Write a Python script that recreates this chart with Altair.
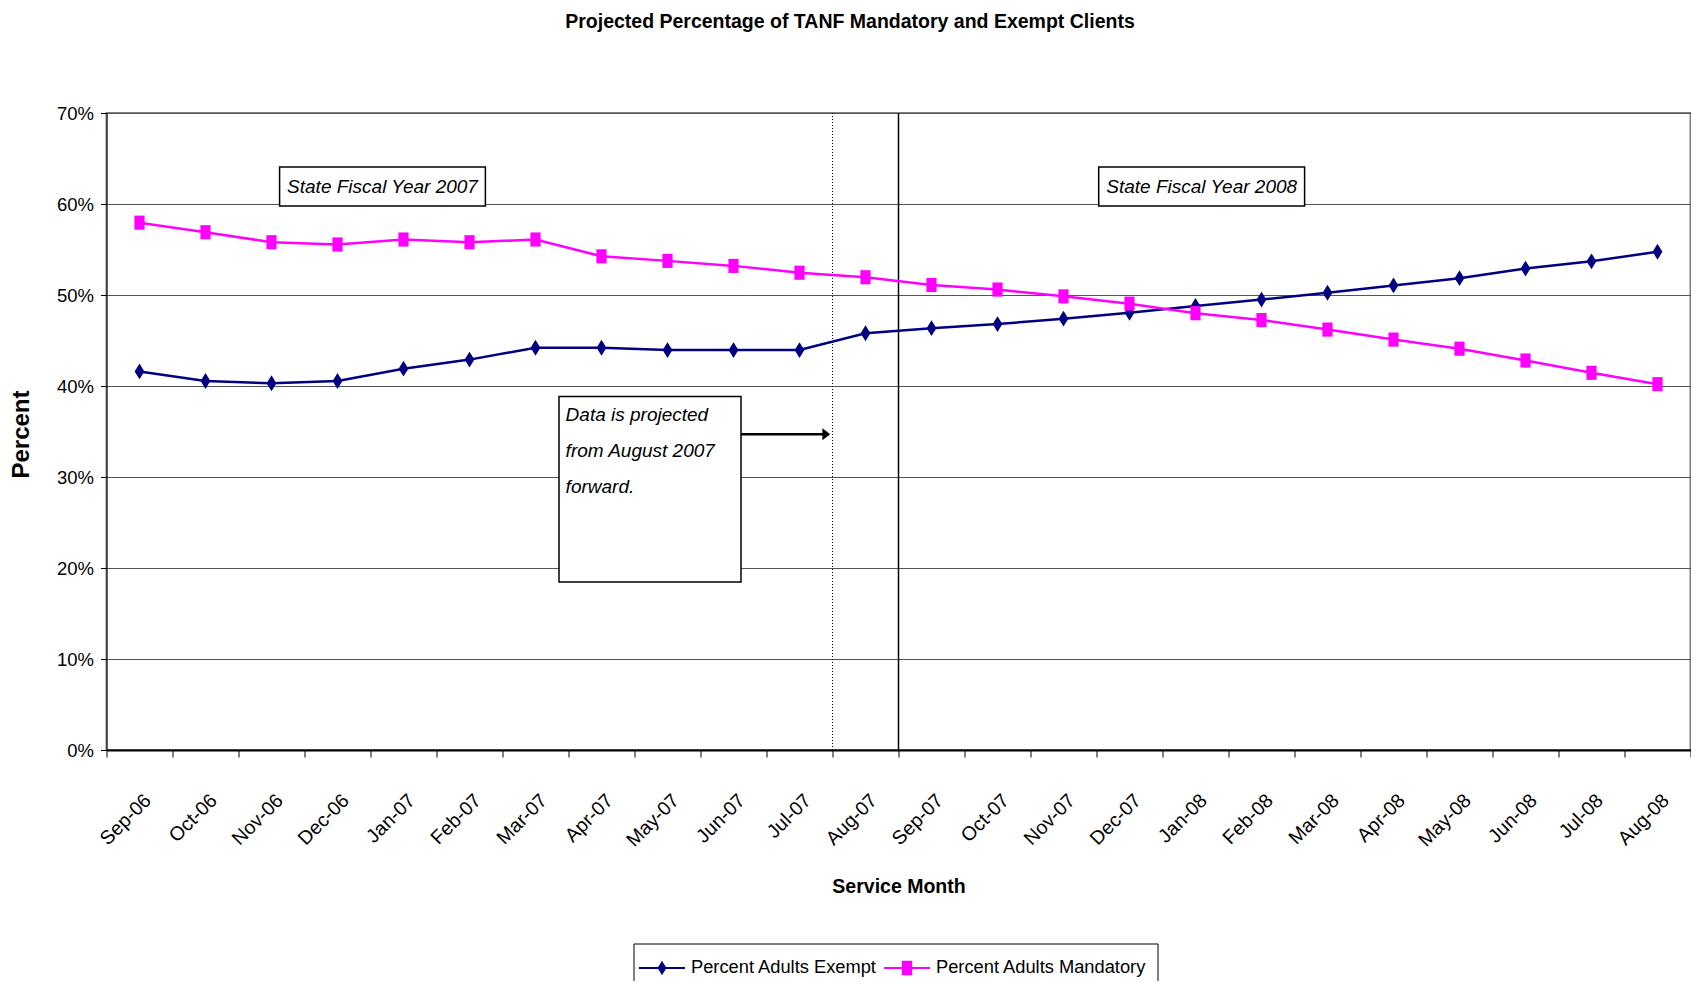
import altair as alt
import pandas as pd

# ---------------- data ----------------
months = ["Sep-06", "Oct-06", "Nov-06", "Dec-06", "Jan-07", "Feb-07", "Mar-07", "Apr-07",
          "May-07", "Jun-07", "Jul-07", "Aug-07", "Sep-07", "Oct-07", "Nov-07", "Dec-07",
          "Jan-08", "Feb-08", "Mar-08", "Apr-08", "May-08", "Jun-08", "Jul-08", "Aug-08"]
exempt = [41.6, 40.55, 40.3, 40.55, 41.9, 42.9, 44.2, 44.2, 43.95, 43.95, 43.95, 45.8,
          46.35, 46.8, 47.4, 48.05, 48.8, 49.5, 50.25, 51.05, 51.85, 52.9, 53.7, 54.75]
mandatory = [57.95, 56.9, 55.8, 55.55, 56.1, 55.8, 56.1, 54.25, 53.75, 53.2, 52.45, 51.95,
             51.1, 50.6, 49.85, 49.05, 48.0, 47.25, 46.2, 45.1, 44.1, 42.8, 41.45, 40.2]
series = ["Percent Adults Exempt", "Percent Adults Mandatory"]
colors = ["#000080", "#FF00FF"]
y_ticks = [0, 10, 20, 30, 40, 50, 60, 70]
projection_start = ["Aug-07"]
fiscal_year_start = ["Sep-07"]
title_text = "Projected Percentage of TANF Mandatory and Exempt Clients"
x_title = "Service Month"
y_title = "Percent"
sfy_labels = ["State Fiscal Year 2007", "State Fiscal Year 2008"]
note_lines = ["Data is projected", "from August 2007", "forward."]

df = pd.DataFrame({
    "month": months * 2,
    "series": [series[0]] * len(months) + [series[1]] * len(months),
    "value": exempt + mandatory,
})

# ---------------- styling ----------------
FONT = "Liberation Sans, Arial, sans-serif"
W, H = 1584, 637

DIAMOND = "M0,-1L0.62,0L0,1L-0.62,0Z"
RECT = "M-0.72,-1H0.72V1H-0.72Z"
shapes = [DIAMOND, RECT]
shape_sizes = [250, 200]

xscale = alt.Scale(domain=months, type="band", paddingInner=0, paddingOuter=0)
yscale = alt.Scale(domain=[0, 70], nice=False, zero=True)

x_axis = alt.Axis(labelAngle=-45, labelAlign="right", labelBaseline="middle",
                  labelFont=FONT, labelFontSize=19.5, labelColor="black",
                  labelPadding=40, labelOffset=8, labelOverlap=False, labelBound=False,
                  tickBand="extent", tickSize=7, tickColor="black", tickWidth=1,
                  domainColor="black", domainWidth=2, grid=False, title=None)
y_axis = alt.Axis(values=y_ticks, labelExpr="datum.value + '%'", grid=True,
                  gridColor="#555555", gridWidth=1, domainColor="black", domainWidth=1,
                  tickColor="black", tickSize=6, labelFont=FONT, labelFontSize=18.5,
                  labelColor="black", labelPadding=7, title=None)


def X(band=0.5):
    return alt.X("month:N", scale=xscale, axis=x_axis, sort=months, bandPosition=band)


def Y():
    return alt.Y("value:Q", scale=yscale, axis=y_axis)


base = alt.Chart(df)

lines = base.mark_line(strokeWidth=2.5).encode(
    x=X(), y=Y(),
    color=alt.Color("series:N", scale=alt.Scale(domain=series, range=colors), legend=None),
)

point_layers = [
    base.transform_filter(alt.datum.series == s).mark_point(
        shape=shp, filled=True, size=sz, color=c, opacity=1, strokeWidth=0
    ).encode(x=X(), y=Y())
    for s, shp, sz, c in zip(series, shapes, shape_sizes, colors)
]

rule_proj = alt.Chart(pd.DataFrame({"month": projection_start})).mark_rule(
    color="black", strokeWidth=1, strokeDash=[1, 2]
).encode(x=X(0))

rule_fy = alt.Chart(pd.DataFrame({"month": fiscal_year_start})).mark_rule(
    color="black", strokeWidth=1.5
).encode(x=X(0))

one = pd.DataFrame({"k": [0]})


def box(x1, x2, y1, y2, sw=1.5, fill_op=1):
    return alt.Chart(one).mark_rect(fill="white", fillOpacity=fill_op, stroke="black",
                                    strokeWidth=sw).encode(
        x=alt.value(x1), x2=alt.value(x2), y=alt.value(y1), y2=alt.value(y2))


def label(text, x, y, **kw):
    return alt.Chart(one).mark_text(text=text, **kw).encode(x=alt.value(x), y=alt.value(y))


ital = dict(font=FONT, fontSize=19, fontStyle="italic", color="black", baseline="middle")

layers = [
    rule_proj, rule_fy, lines, *point_layers,
    box(173.1, 378.9, 53.9, 92.9), label(sfy_labels[0], 276, 73.6, align="center", **ital),
    box(992.2, 1198.1, 53.9, 92.9), label(sfy_labels[1], 1095.2, 73.6, align="center", **ital),
    box(452.5, 634.5, 283.6, 468.9),
]
for i, t in enumerate(note_lines):
    layers.append(label(t, 459.1, 302 + i * 35.8, align="left", **ital))

# arrow
layers.append(alt.Chart(one).mark_rule(color="black", strokeWidth=2.5).encode(
    x=alt.value(634.5), x2=alt.value(717), y=alt.value(321.3)))
layers.append(alt.Chart(one).mark_point(shape="M-0.6,-1L0.7,0L-0.6,1Z", filled=True,
                                        size=144, color="black", opacity=1).encode(
    x=alt.value(719.5), y=alt.value(321.3)))

# titles
layers.append(label(title_text, 743.5, -91.3, align="center", baseline="middle",
                    font=FONT, fontSize=19.5, fontWeight="bold", color="black"))
layers.append(label(x_title, 792.5, 774, align="center", baseline="middle",
                    font=FONT, fontSize=19.5, fontWeight="bold", color="black"))
layers.append(label(y_title, -84.8, 321.5, align="center", baseline="middle", angle=270,
                    font=FONT, fontSize=24, fontWeight="bold", color="black"))

# legend (frame, line+marker key, label for each series)
layers.append(box(527.5, 1051.5, 831, 900, sw=1))
leg_y = 855
leg_x0 = [532.5, 777.5]
for s, c, shp, x0 in zip(series, colors, shapes, leg_x0):
    layers.append(alt.Chart(one).mark_rule(color=c, strokeWidth=2).encode(
        x=alt.value(x0), x2=alt.value(x0 + 46), y=alt.value(leg_y)))
    layers.append(alt.Chart(one).mark_point(shape=shp, filled=True, size=210, color=c,
                                            opacity=1, strokeWidth=0).encode(
        x=alt.value(x0 + 23), y=alt.value(leg_y)))
    layers.append(label(s, x0 + 52, leg_y, align="left", baseline="middle",
                        font=FONT, fontSize=18.3, color="black"))

chart = alt.layer(*layers).properties(
    width=W, height=H,
    autosize=alt.AutoSizeParams(type="none"),
    padding={"left": 98.5, "top": 105, "right": 0, "bottom": 231},
    background="white",
).configure_view(stroke="#808080", strokeWidth=2)

chart.save("out.html", embed_options={"renderer": "svg", "actions": False})
